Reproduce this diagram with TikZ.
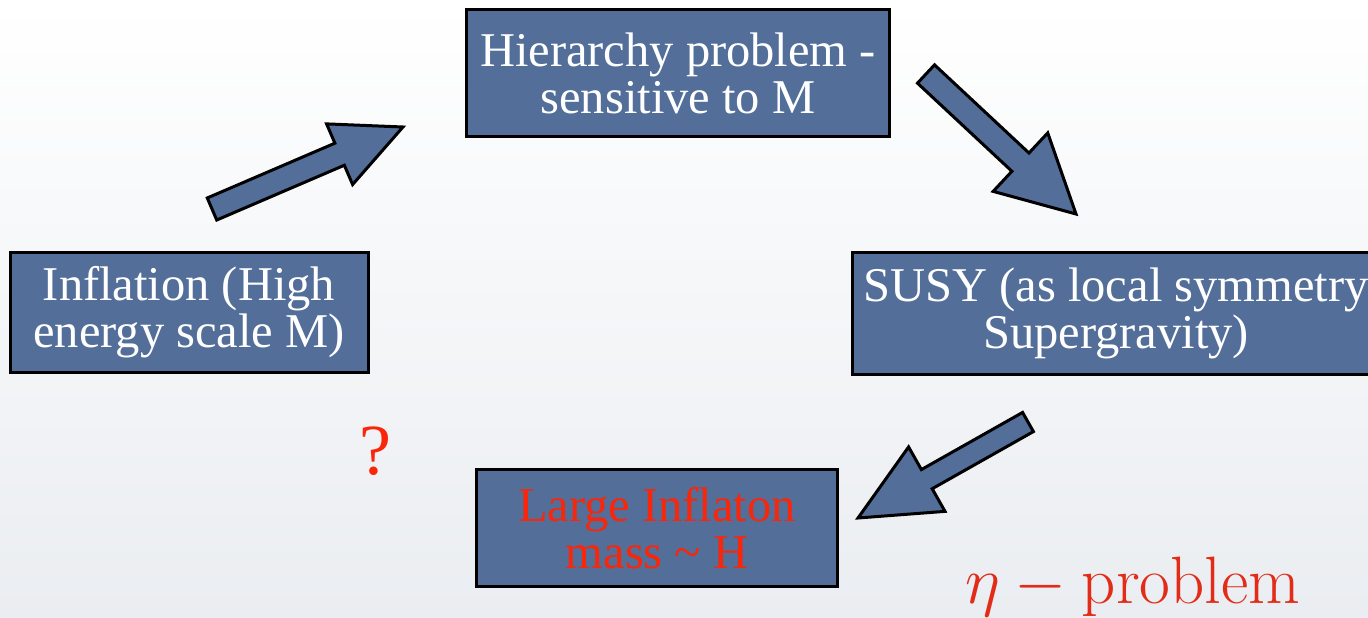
\documentclass[tikz,border=0pt]{standalone}
\usepackage{fix-cm}
\usepackage{fontspec}
\newfontfamily\boxfont{Liberation Serif}
\usetikzlibrary{calc}
\definecolor{slblue}{RGB}{82,110,153}
\definecolor{slred}{RGB}{250,38,10}
\definecolor{sletared}{RGB}{226,44,24}
\definecolor{slbg}{RGB}{234,237,241}
\tikzset{
 sl box/.style={draw=black,line width=3pt,fill=slblue,text=white,align=center,
                inner sep=0pt,font=\boxfont\fontsize{48.5}{47}\selectfont},
 sl arrow/.style={draw=black,line width=3pt,fill=slblue,line join=miter},
 sl red/.style={text=slred}
}
% block arrow: tail, tip, shaft half width, head half width, head length
\newcommand{\slarrow}[5]{%
 \coordinate (#1 base) at ($(#2)!#5!(#1)$);
 \draw[sl arrow] ($(#1)!#3!90:(#2)$) -- ($(#1 base)!#3!90:(#2)$)
   -- ($(#1 base)!#4!90:(#2)$) -- (#2) -- ($(#1 base)!#4!-90:(#2)$)
   -- ($(#1 base)!#3!-90:(#2)$) -- ($(#1)!#3!-90:(#2)$) -- cycle;}
\begin{document}
\begin{tikzpicture}[x=1pt,y=-1pt]
 \useasboundingbox (0,0) rectangle (1368,618);
 \clip (0,0) rectangle (1368,618);
 \shade[top color=white,bottom color=slbg] (0,0) rectangle (1368,618);

 \node[sl box,minimum width=358,minimum height=120] (infl) at (189,312)
   {Inflation (High\\energy scale M)};
 \node[sl box,minimum width=423,minimum height=126] (hier) at (678,73)
   {Hierarchy problem -\\sensitive to M};
 \node[sl box,minimum width=527,minimum height=122] (susy) at (1116,313)
   {SUSY (as local symmetry\\Supergravity)};
 \node[sl box,sl red,minimum width=361,minimum height=117] (large) at (657,528)
   {Large Inflaton\\mass \textasciitilde{} H};

 \coordinate (up tail) at (212,209);
 \coordinate (up tip) at (403,127);
 \coordinate (down tail) at (926,74);
 \coordinate (down tip) at (1076,214);
 \coordinate (back tail) at (1028,422);
 \coordinate (back tip) at (858,518);
 \slarrow{up tail}{up tip}{12pt}{33pt}{69pt}
 \slarrow{down tail}{down tip}{12.5pt}{40pt}{76pt}
 \slarrow{back tail}{back tip}{11pt}{37pt}{79pt}

 \node[text=slred,font=\boxfont\fontsize{72}{72}\selectfont,anchor=base,inner sep=0pt]
   (qmark) at (375,474) {?};
 \node[text=sletared,font=\fontsize{67}{67}\selectfont,anchor=base west,inner sep=0pt]
   (eta) at (965,603) {$\eta-\mathrm{problem}$};
\end{tikzpicture}
\end{document}
